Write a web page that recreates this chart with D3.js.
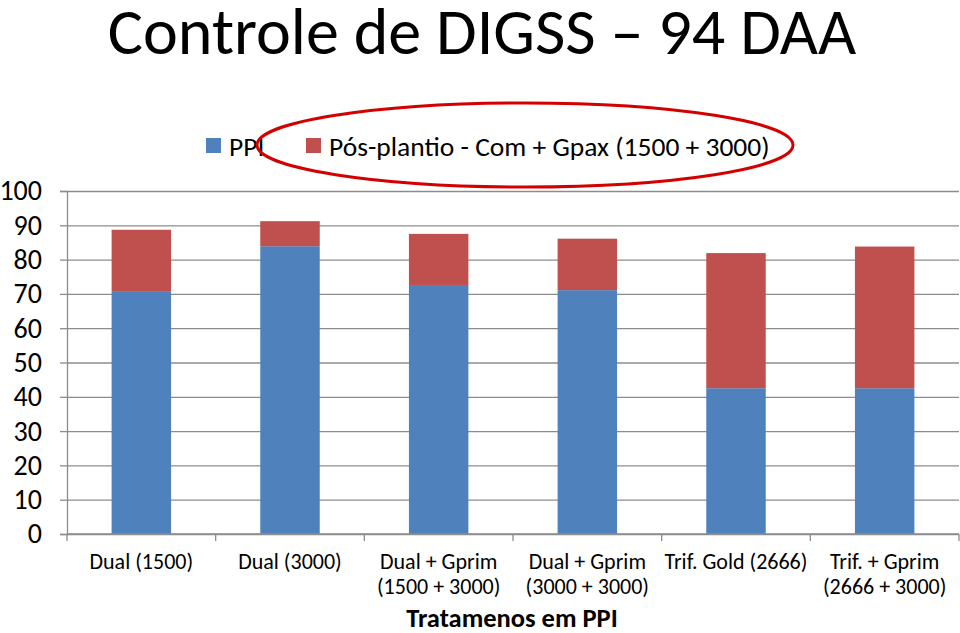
<!DOCTYPE html>
<html>
<head>
<meta charset="utf-8">
<script src="https://cdn.jsdelivr.net/npm/d3@7"></script>
<style>
  body { margin: 0; background: #fff; }
  svg { display: block; font-family: Carlito, Lato, "Open Sans", sans-serif; }
</style>
</head>
<body>
<svg id="chart" width="960" height="633"></svg>
<script>
const categories = [
  ["Dual (1500)"],
  ["Dual (3000)"],
  ["Dual + Gprim", "(1500 + 3000)"],
  ["Dual + Gprim", "(3000 + 3000)"],
  ["Trif. Gold (2666)"],
  ["Trif. + Gprim", "(2666 + 3000)"],
];
const ppi = [70.6, 83.9, 72.6, 71.1, 42.5, 42.5];
const posPlantio = [18.1, 7.3, 14.9, 15.0, 39.4, 41.3];
const seriesNames = ["PPI", "Pós-plantio - Com + Gpax (1500 + 3000)"];
const yTicks = [0, 10, 20, 30, 40, 50, 60, 70, 80, 90, 100];

const blue = "#4F81BD";
const red = "#C0504D";
const gridColor = "#8c8c8c";

const svg = d3.select("#chart");
const plotLeft = 67, plotRight = 959, plotTop = 191, plotBottom = 534;

const x = d3
  .scaleBand()
  .domain(d3.range(categories.length))
  .range([plotLeft, plotRight])
  .paddingInner(0.6)
  .paddingOuter(0.3);
const y = d3.scaleLinear().domain([0, 100]).range([plotBottom, plotTop]);

// title
svg
  .append("text")
  .attr("x", 482)
  .attr("y", 54)
  .attr("text-anchor", "middle")
  .attr("font-size", 66)
  .attr("fill", "#000")
  .text("Controle de DIGSS \u2013 94 DAA");

// gridlines
svg
  .append("g")
  .attr("transform", `translate(${plotLeft},0)`)
  .call(d3.axisLeft(y).tickValues(yTicks).tickSize(-(plotRight - plotLeft)).tickFormat(""))
  .call((g) => g.select(".domain").remove())
  .call((g) => g.selectAll("line").attr("stroke", gridColor).attr("stroke-width", 1.3));

// y axis
svg
  .append("g")
  .attr("transform", `translate(${plotLeft},0)`)
  .call(d3.axisLeft(y).tickValues(yTicks).tickSize(7).tickPadding(18))
  .call((g) => g.select(".domain").attr("stroke", gridColor).attr("stroke-width", 1.3))
  .call((g) => g.selectAll("line").attr("stroke", gridColor).attr("stroke-width", 1.3))
  .call((g) =>
    g.selectAll("text").attr("font-size", 28).attr("fill", "#000").attr("font-family", "Carlito, Lato, sans-serif")
  );

// bars
const stackData = categories.map((c, i) => ({ i, ppi: ppi[i], pos: posPlantio[i] }));
const stacked = d3.stack().keys(["ppi", "pos"])(stackData);
const colors = [blue, red];

svg
  .append("g")
  .selectAll("g")
  .data(stacked)
  .join("g")
  .attr("fill", (d, k) => colors[k])
  .selectAll("rect")
  .data((d) => d)
  .join("rect")
  .attr("x", (d) => x(d.data.i))
  .attr("width", x.bandwidth())
  .attr("y", (d) => y(d[1]))
  .attr("height", (d) => y(d[0]) - y(d[1]));

// x axis line + category separator ticks
const step = x.step();
const xAxis = svg.append("g");
xAxis
  .append("line")
  .attr("x1", plotLeft)
  .attr("x2", plotRight)
  .attr("y1", plotBottom)
  .attr("y2", plotBottom)
  .attr("stroke", gridColor)
  .attr("stroke-width", 1.3);
xAxis
  .selectAll("line.sep")
  .data(d3.range(categories.length + 1))
  .join("line")
  .attr("class", "sep")
  .attr("x1", (d) => plotLeft + d * step)
  .attr("x2", (d) => plotLeft + d * step)
  .attr("y1", plotBottom)
  .attr("y2", plotBottom + 7)
  .attr("stroke", gridColor)
  .attr("stroke-width", 1.3);

xAxis
  .selectAll("text.cat")
  .data(categories)
  .join("text")
  .attr("class", "cat")
  .attr("x", (d, i) => x(i) + x.bandwidth() / 2)
  .attr("y", 569)
  .attr("text-anchor", "middle")
  .attr("font-size", 22)
  .attr("fill", "#000")
  .each(function (d) {
    const t = d3.select(this);
    d.forEach((line, j) => {
      t.append("tspan")
        .attr("x", t.attr("x"))
        .attr("dy", j === 0 ? 0 : 25)
        .text(line);
    });
  });

// axis title
svg
  .append("text")
  .attr("x", 512)
  .attr("y", 627)
  .attr("text-anchor", "middle")
  .attr("font-size", 26.5)
  .attr("font-weight", "bold")
  .attr("fill", "#000")
  .text("Tratamenos em PPI");

// legend
const legendItems = [
  { name: seriesNames[0], color: blue, x: 206 },
  { name: seriesNames[1], color: red, x: 306 },
];
const legend = svg.append("g");
legend
  .selectAll("rect")
  .data(legendItems)
  .join("rect")
  .attr("x", (d) => d.x)
  .attr("y", 138)
  .attr("width", 15)
  .attr("height", 15)
  .attr("fill", (d) => d.color);
legend
  .selectAll("text")
  .data(legendItems)
  .join("text")
  .attr("x", (d) => d.x + 23)
  .attr("y", 156)
  .attr("font-size", 27.5)
  .attr("fill", "#000")
  .text((d) => d.name);

// red highlight ellipse
svg
  .append("ellipse")
  .attr("cx", 525)
  .attr("cy", 145)
  .attr("rx", 268)
  .attr("ry", 42)
  .attr("fill", "none")
  .attr("stroke", "#d40000")
  .attr("stroke-width", 3);
</script>
</body>
</html>
